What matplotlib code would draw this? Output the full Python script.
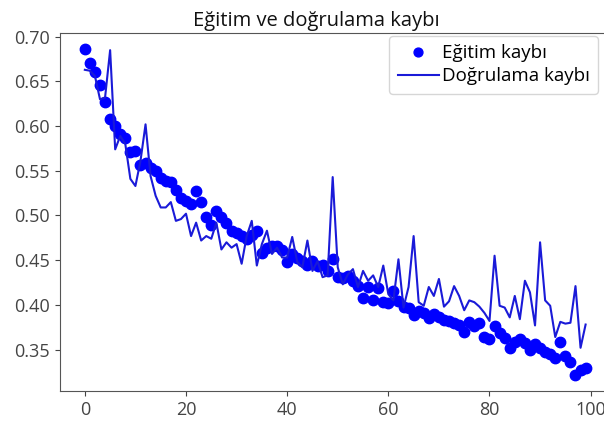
import matplotlib
matplotlib.use('Agg')
import matplotlib.pyplot as plt

# Epoch values
epochs = list(range(100))

train_loss = [
    0.686, 0.671, 0.661, 0.646, 0.627, 0.608, 0.600, 0.591, 0.587, 0.571,
    0.572, 0.557, 0.559, 0.553, 0.550, 0.542, 0.539, 0.537, 0.529, 0.520,
    0.516, 0.513, 0.527, 0.515, 0.498, 0.489, 0.505, 0.498, 0.492, 0.483,
    0.480, 0.477, 0.474, 0.478, 0.483, 0.458, 0.464, 0.466, 0.466, 0.461,
    0.448, 0.457, 0.452, 0.449, 0.445, 0.449, 0.443, 0.445, 0.438, 0.451,
    0.431, 0.430, 0.432, 0.427, 0.421, 0.408, 0.420, 0.405, 0.419, 0.403,
    0.402, 0.416, 0.404, 0.398, 0.396, 0.389, 0.393, 0.391, 0.385, 0.390,
    0.386, 0.383, 0.382, 0.380, 0.378, 0.370, 0.381, 0.376, 0.380, 0.364,
    0.362, 0.376, 0.368, 0.363, 0.352, 0.359, 0.362, 0.357, 0.349, 0.356,
    0.352, 0.347, 0.345, 0.340, 0.358, 0.343, 0.336, 0.322, 0.327, 0.329,
]

val_loss = [
    0.663, 0.662, 0.656, 0.630, 0.632, 0.685, 0.574, 0.589, 0.580, 0.541,
    0.533, 0.561, 0.602, 0.544, 0.522, 0.509, 0.509, 0.515, 0.494, 0.496,
    0.502, 0.477, 0.492, 0.472, 0.477, 0.474, 0.492, 0.462, 0.470, 0.464,
    0.468, 0.446, 0.477, 0.494, 0.444, 0.468, 0.483, 0.457, 0.464, 0.453,
    0.453, 0.476, 0.448, 0.442, 0.472, 0.438, 0.449, 0.431, 0.433, 0.543,
    0.442, 0.423, 0.434, 0.440, 0.420, 0.438, 0.427, 0.433, 0.420, 0.444,
    0.412, 0.405, 0.451, 0.397, 0.420, 0.477, 0.403, 0.399, 0.420, 0.410,
    0.429, 0.398, 0.404, 0.421, 0.410, 0.394, 0.405, 0.403, 0.398, 0.391,
    0.382, 0.455, 0.399, 0.397, 0.386, 0.410, 0.384, 0.427, 0.414, 0.377,
    0.470, 0.405, 0.399, 0.364, 0.381, 0.379, 0.380, 0.421, 0.352, 0.378,
]

title = 'Eğitim ve doğrulama kaybı'
train_label = 'Eğitim kaybı'
val_label = 'Doğrulama kaybı'

plt.rcParams['font.family'] = ['Open Sans', 'DejaVu Sans']

fig = plt.figure(figsize=(6.04, 4.23), dpi=100)
# axes run past the right edge like in the cropped reference
ax = fig.add_axes([0.099, 0.076, 0.912, 0.846])

ax.plot(epochs, train_loss, 'bo', markersize=7.5, label=train_label)
ax.plot(epochs, val_loss, color='#1a1ad8', linewidth=1.5, label=val_label)

ax.set_title(title, fontsize=14.5, color='#111111', pad=5, x=0.466)
ax.set_xticks([0, 20, 40, 60, 80, 100])
ax.set_yticks([0.35, 0.40, 0.45, 0.50, 0.55, 0.60, 0.65, 0.70])
ax.set_yticklabels(['0.35', '0.40', '0.45', '0.50', '0.55', '0.60', '0.65', '0.70'])
ax.tick_params(labelsize=13, colors='#444444')
for s in ax.spines.values():
    s.set_color('#555555')

# legend pinned to the figure, since the axes run off the right side
ax.legend(loc='upper right', bbox_to_anchor=(0.99, 0.915),
          bbox_transform=fig.transFigure, fontsize=13.5, borderaxespad=0,
          handlelength=2.2, handletextpad=0.15, borderpad=0.45,
          labelspacing=0.25, markerscale=0.85)

fig.savefig('out.png', dpi=100)
